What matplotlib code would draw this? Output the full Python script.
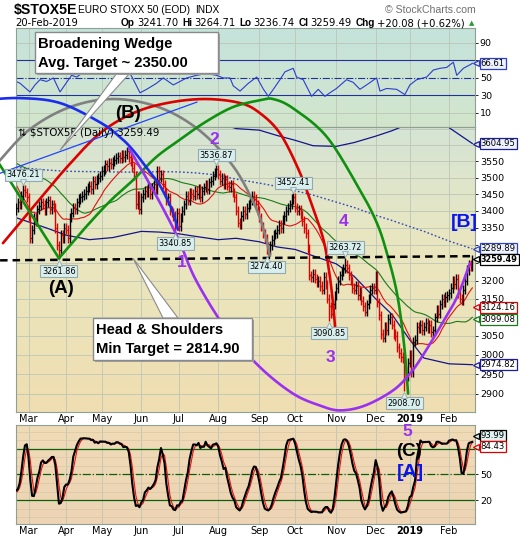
import numpy as np
import pandas as pd
import matplotlib
matplotlib.use("Agg")
import matplotlib.pyplot as plt
from matplotlib.patches import Rectangle, Polygon
from matplotlib.ticker import NullLocator, NullFormatter
from matplotlib.transforms import blended_transform_factory, offset_copy

plt.rcParams["font.family"] = ["DejaVu Sans"]

# ---------------- data ----------------
HOLIDAYS = ["2018-03-30", "2018-04-02", "2018-05-01", "2018-12-25", "2018-12-26", "2019-01-01"]
dates = pd.bdate_range("2018-02-20", "2019-02-20")
dates = dates[~dates.isin(pd.to_datetime(HOLIDAYS))]

# closes before the visible window (Dec 2017 - 19 Feb 2018), used only to seed the averages
warmup_closes = [3570, 3575, 3580, 3565, 3555, 3580, 3590, 3595, 3585, 3560,
                 3570, 3605, 3590, 3560, 3565, 3560, 3555, 3530, 3504,
                 3490, 3527, 3580, 3607, 3612, 3625, 3605, 3590, 3614, 3615,
                 3620, 3608, 3620, 3647, 3650, 3672, 3640, 3647, 3647, 3636,
                 3600, 3609,
                 3590, 3523, 3478, 3370, 3425, 3380, 3326, 3360, 3352, 3376,
                 3390, 3426, 3400]

# daily closes 20-Feb-2018 .. 20-Feb-2019
closes = [3410, 3425, 3420, 3445, 3462, 3455, 3440, 3385, 3320, 3345,
          3380, 3370, 3405, 3415, 3425, 3418, 3400, 3425, 3432, 3405,
          3420, 3410, 3350, 3300, 3285, 3330, 3320, 3350, 3345, 3320,
          3380, 3395, 3410, 3405, 3425, 3435, 3440, 3445, 3450, 3460,
          3470, 3475, 3465, 3490, 3480, 3495, 3500, 3505, 3520, 3525,
          3540, 3535, 3545, 3540, 3550, 3555, 3560, 3565, 3560, 3570,
          3562, 3570, 3580, 3562, 3548, 3530, 3505, 3420, 3445, 3405,
          3440, 3450, 3460, 3455, 3470, 3450, 3470, 3480, 3465, 3520,
          3500, 3510, 3480, 3455, 3430, 3440, 3400, 3395, 3385, 3360,
          3395, 3355, 3380, 3400, 3420, 3445, 3430, 3455, 3450, 3445,
          3460, 3450, 3465, 3440, 3460, 3470, 3480, 3465, 3485, 3490,
          3505, 3515, 3525, 3510, 3490, 3500, 3480, 3495, 3475, 3470,
          3480, 3455, 3440, 3400, 3365, 3360, 3385, 3400, 3390, 3410,
          3420, 3430, 3445, 3435, 3420, 3400, 3380, 3355, 3335, 3320,
          3295, 3285, 3300, 3315, 3330, 3335, 3345, 3360, 3350, 3375,
          3385, 3400, 3410, 3420, 3435, 3440, 3410, 3400, 3405, 3390,
          3370, 3350, 3335, 3290, 3215, 3210, 3220, 3205, 3195, 3200,
          3185, 3175, 3210, 3190, 3150, 3130, 3110, 3135, 3160, 3180,
          3200, 3215, 3225, 3235, 3245, 3235, 3215, 3200, 3180, 3175,
          3185, 3160, 3170, 3145, 3130, 3115, 3135, 3150, 3175, 3180,
          3175, 3215, 3140, 3105, 3055, 3045, 3075, 3065, 3095, 3100,
          3080, 3055, 3050, 3020, 3005, 2995, 2990, 2960, 2945, 2980,
          3000, 2955, 3035, 3040, 3075, 3070, 3080, 3065, 3075, 3085,
          3070, 3080, 3060, 3065, 3100, 3120, 3110, 3135, 3150, 3140,
          3155, 3160, 3165, 3180, 3200, 3190, 3205, 3165, 3150, 3145,
          3175, 3200, 3230, 3246, 3239, 3259.49]

# labelled swing highs / lows
pivot_dates = ["2018-02-26", "2018-03-26", "2018-06-28", "2018-07-31", "2018-09-07",
               "2018-09-28", "2018-10-26", "2018-11-08", "2018-12-27"]
pivot_values = [3476.21, 3261.86, 3340.85, 3536.87, 3274.40, 3452.41, 3090.85, 3263.72, 2908.70]
pivot_is_high = [True, False, False, True, False, True, False, True, False]

# 200-day average and its bands
band_dates = ["2018-02-20", "2018-03-15", "2018-04-03", "2018-04-20", "2018-05-10", "2018-06-01",
              "2018-06-15", "2018-07-02", "2018-07-16", "2018-08-01", "2018-08-15", "2018-09-03",
              "2018-09-17", "2018-10-01", "2018-10-15", "2018-11-01", "2018-11-15", "2018-12-03",
              "2018-12-14", "2019-01-02", "2019-01-14", "2019-02-01", "2019-02-20"]
sma200 = [3531, 3523, 3519, 3518, 3517, 3516, 3518, 3517, 3514, 3507, 3495, 3483,
          3473, 3460, 3447, 3426, 3410, 3387, 3372, 3354, 3340, 3312, 3289.89]
band_upper = [3690, 3695, 3705, 3712, 3712, 3700, 3702, 3700, 3695, 3670, 3652, 3647,
              3630, 3615, 3598, 3596, 3608, 3628, 3645, 3668, 3680, 3655, 3604.95]
band_lower = [3380, 3350, 3329, 3316, 3322, 3340, 3338, 3333, 3325, 3316, 3320, 3310,
              3295, 3288, 3270, 3247, 3212, 3150, 3108, 3040, 2992, 2977, 2974.82]

# top panel oscillator (trading-day index, value)
rsi_days = [0, 2.2, 7.8, 10.6, 13.4, 17.1, 20.9, 24.6, 28.3, 31.1, 33.9, 40, 46, 52, 58, 62,
            65.6, 69.3, 73.0, 78.6, 82.3, 87.9, 95.4, 100.9, 106.5, 112.1, 115.8, 119.6, 121.4,
            125.2, 129.9, 134.5, 138.3, 141.0, 143.8, 147.5, 150.3, 154.9, 156.8, 160.5, 165.2,
            168.9, 172.6, 175.4, 179.1, 184.7, 188.4, 192.2, 195.9, 201.5, 203.4, 207.1, 212.7,
            217.3, 220.1, 223.9, 229.5, 233.2, 236.9, 240.7, 244.4, 246.3, 250.0, 253.7, 255]
rsi_vals = [46, 44, 34, 42, 48, 46, 50, 34, 45, 53, 51, 60, 66, 63, 68, 62,
            48, 33, 37, 44, 50, 42, 50, 53, 55, 53, 50, 50, 41,
            35, 44, 51, 37, 29, 37, 48, 57, 61, 51, 48, 29,
            37, 29, 33, 38, 48, 45, 37, 42, 50, 35, 38, 37,
            31, 42, 48, 51, 59, 61, 62, 68, 53, 61, 65, 66.61]
stoch_last = [93.99, 84.43]

# hand-drawn annotation curves: (trading-day offset from first bar, price)
arc_blue = [(-20.1, 3743), (2.2, 3750), (24.6, 3734), (46.9, 3672), (58.1, 3625), (65.4, 3584),
            (74.9, 3516), (80.5, 3475), (87.2, 3403), (90.5, 3345)]
arc_gray = [(-14.5, 3513), (-8.9, 3553), (7.8, 3650), (30.2, 3721), (54.8, 3747), (80.5, 3719),
            (102.8, 3645), (121.3, 3535), (133.6, 3415), (139.1, 3332), (141.9, 3269)]
arc_red = [(-7.3, 3306), (9.5, 3411), (28.5, 3532), (46.9, 3637), (65.4, 3701), (84.4, 3734),
           (105.6, 3747), (125.2, 3734), (136.4, 3701), (147.5, 3637), (157.6, 3528),
           (164.8, 3426), (171.6, 3320), (174.9, 3229), (177.2, 3136), (178.3, 3073)]
line_green = [(-11.7, 3562), (24.0, 3263)]
arc_green = [(24.0, 3263), (37.4, 3343), (52.0, 3426), (65.4, 3492), (78.2, 3562), (91.1, 3615),
             (105.6, 3672), (121.3, 3721), (136.4, 3743), (143.6, 3747), (154.8, 3717),
             (173.8, 3625), (192.2, 3462), (201.7, 3364), (207.3, 3277), (212.9, 3165),
             (216.8, 3030), (219.1, 2901)]
arc_purple = [(63.1, 3590), (71.0, 3516), (82.1, 3408), (91.1, 3314), (100.6, 3201), (117.9, 3065),
              (136.4, 2968), (154.8, 2901), (169.9, 2871), (181.1, 2859), (195.0, 2871),
              (210.7, 2909), (220.2, 2952), (227.4, 2999), (236.9, 3073), (246.4, 3154),
              (253.7, 3249)]
neckline = [(-8.9, 3257), (256.5, 3269)]
wedge_line = [(-8.9, 3513), (101.1, 3737)]

# right-edge value tags: value, edge colour, fill, bold, nudge (pixels, + = up)
tags_main = [(3604.95, "#1c1c9c", "#eef2ff", False, 0), (3289.89, "#3344bb", "#eef2ff", False, 0),
             (3259.49, "black", "white", True, 0), (3124.16, "#dd0000", "white", False, 1.0),
             (3099.08, "#1a7a1a", "white", False, -1.5), (2974.82, "#1c1c9c", "white", False, 0)]

# ---------------- indicators ----------------
allc = np.array(warmup_closes + closes, float)
prev = np.concatenate([[allc[0]], allc[:-1]])
all_hi = np.maximum(prev, allc) * 1.004
all_lo = np.minimum(prev, allc) * 0.996
s = pd.Series(allc)
n0 = len(warmup_closes)
c = allc[n0:]
o = prev[n0:]
x = np.arange(len(c))

sma20 = s.rolling(20).mean().values[n0:]
sma50 = s.rolling(50).mean().values[n0:]
lo14 = pd.Series(all_lo).rolling(14).min()
hi14 = pd.Series(all_hi).rolling(14).max()
fastk = 100 * (s - lo14) / (hi14 - lo14)
slowk = fastk.rolling(3).mean()
slowd = slowk.rolling(3).mean()
slowk = slowk.values[n0:]
slowd = slowd.values[n0:]

piv_idx = dates.get_indexer(pd.to_datetime(pivot_dates))
band_idx = dates.get_indexer(pd.to_datetime(band_dates))

hi = all_hi[n0:].copy()
lo = all_lo[n0:].copy()
for i, v, h in zip(piv_idx, pivot_values, pivot_is_high):
    if h:
        hi[i] = max(hi[i], v)
    else:
        lo[i] = min(lo[i], v)
bar_col = np.where(c >= o, "black", "#e00000")

month_idx, month_lab = [], []
for i in range(1, len(dates)):
    if dates[i].month != dates[i - 1].month:
        month_idx.append(i)
        month_lab.append("2019" if dates[i].month == 1 else dates[i].strftime("%b"))


def catmull(points, n=24):
    P = np.array(points, float)
    P[:, 1] = np.log(P[:, 1])
    P = np.vstack([2 * P[0] - P[1], P, 2 * P[-1] - P[-2]])
    t = np.linspace(0, 1, n, endpoint=False)[:, None]
    segs = []
    for i in range(1, len(P) - 2):
        p0, p1, p2, p3 = P[i - 1], P[i], P[i + 1], P[i + 2]
        segs.append(0.5 * (2 * p1 + (-p0 + p2) * t + (2 * p0 - 5 * p1 + 4 * p2 - p3) * t ** 2
                           + (-p0 + 3 * p1 - 3 * p2 + p3) * t ** 3))
    segs.append(P[-2][None, :])
    R = np.vstack(segs)
    return R[:, 0], np.exp(R[:, 1])


# ---------------- layout ----------------
W_PX, H_PX = 520, 540
fig = plt.figure(figsize=(5.2, 5.4), dpi=100)
fig.patch.set_facecolor("white")


def fx(px):
    return px / W_PX


def fy(py):
    return 1 - py / H_PX


def rect(top, bottom):
    return [fx(16), fy(bottom), fx(475) - fx(16), (bottom - top) / H_PX]


def gradient_bg(r, stops):
    bg = fig.add_axes(r, zorder=-5)
    pos = np.linspace(0, 1, 200)
    cols = np.array([np.interp(pos, [p for p, _ in stops], [col[k] for _, col in stops])
                     for k in range(3)]).T
    bg.imshow(cols[:, None, :] / 255.0, aspect="auto", extent=(0, 1, 0, 1))
    bg.set_axis_off()


R_RSI, R_MAIN, R_ST = rect(28, 127), rect(127, 412), rect(425, 524)
gradient_bg(R_RSI, [(0, (197, 227, 220)), (1, (211, 230, 204))])
gradient_bg(R_MAIN, [(0, (213, 228, 213)), (0.4, (233, 231, 192)), (1, (240, 222, 177))])
gradient_bg(R_ST, [(0, (240, 219, 183)), (1, (236, 212, 180))])

ax_r = fig.add_axes(R_RSI)
ax = fig.add_axes(R_MAIN)
ax_s = fig.add_axes(R_ST)

GRID = "#bcc6b6"
for a in (ax_r, ax, ax_s):
    a.set_facecolor("none")
    a.set_xlim(0, 256.5)
    for sp in a.spines.values():
        sp.set_color("#8f9f90")
        sp.set_linewidth(0.8)
    a.yaxis.tick_right()
    a.tick_params(axis="y", labelsize=6.8, pad=1, length=2.5, colors="black", width=0.6)
    a.set_xticks(month_idx)
    for mi in month_idx:
        a.axvline(mi, color=GRID, lw=0.6, zorder=0.5)

for a in (ax, ax_s):
    a.set_xticklabels(month_lab)
    a.tick_params(axis="x", labelsize=7, pad=1.5, length=0)
    for t in a.get_xticklabels():
        if t.get_text() == "2019":
            t.set_fontweight("bold")
ax_r.set_xticklabels([])
ax_r.tick_params(axis="x", length=0)

# ---------------- top oscillator panel ----------------
ax_r.set_ylim(-6, 107)
ax_r.set_yticks([10, 30, 50, 70, 90])
ax_r.set_yticklabels(["10", "30", "50", "", "90"])
for lv in (10, 90):
    ax_r.axhline(lv, color=GRID, lw=0.6, zorder=0.5)
ax_r.axhline(70, color="#22309a", lw=0.8, zorder=1)
ax_r.axhline(30, color="#22309a", lw=0.8, zorder=1)
ax_r.axhline(50, color="#22309a", lw=0.8, ls="-.", zorder=1)
ax_r.plot(rsi_days, rsi_vals, color="#2b3ccf", lw=0.8, zorder=2)

# ---------------- main price panel ----------------
ax.set_yscale("log")
ax.set_ylim(2855, 3657)
ax.yaxis.set_minor_locator(NullLocator())
ax.yaxis.set_minor_formatter(NullFormatter())
yt = list(range(2900, 3601, 50))
hidden = {3100, 3250, 3300, 3600}
ax.set_yticks(yt)
ax.set_yticklabels(["" if v in hidden else str(v) for v in yt])
for lv in range(2900, 3651, 50):
    ax.axhline(lv, color=GRID, lw=0.6, zorder=0.5)

ax.plot(band_idx, band_upper, color="#14148a", lw=0.9, zorder=2)
ax.plot(band_idx, band_lower, color="#14148a", lw=0.9, zorder=2)
ax.plot(band_idx, sma200, color="#3344bb", lw=1.0, ls=(0, (1.2, 1.6)), zorder=2)
ax.plot(x, sma50, color="#1a7a1a", lw=0.8, zorder=2)
ax.plot(x, sma20, color="#e01010", lw=0.8, zorder=2)

ax.vlines(x, lo, hi, colors=bar_col, lw=1.0, zorder=3)
ax.hlines(c, x, x + 0.6, colors=bar_col, lw=0.9, zorder=3)
ax.hlines(o, x - 0.6, x, colors=bar_col, lw=0.9, zorder=3)

for pts, col in ((arc_gray, "#808080"), (arc_red, "#dd0000"), (arc_green, "#109010"),
                 (arc_blue, "#1a2cf0"), (arc_purple, "#9a30f0")):
    ax_, ay_ = catmull(pts)
    ax.plot(ax_, ay_, color=col, lw=1.9, zorder=4, clip_on=False, solid_capstyle="round")
ax.plot([p[0] for p in line_green], [p[1] for p in line_green], color="#109010", lw=1.9,
        zorder=4, clip_on=False)
ax.plot([p[0] for p in wedge_line], [p[1] for p in wedge_line], color="#2244ff", lw=0.9,
        zorder=4, clip_on=False)
ax.plot([p[0] for p in neckline], [p[1] for p in neckline], color="black", lw=1.8,
        dashes=(3, 2), zorder=4, clip_on=False)

ax.text(0.004, 0.979, "\u21c5 $STOX5E (Daily) 3259.49", transform=ax.transAxes, fontsize=7.4,
        va="center", ha="left", zorder=5)

# pivot labels
for i, v, h in zip(piv_idx, pivot_values, pivot_is_high):
    off = 7.5 if h else -9
    ax.annotate(f"{v:.2f}", xy=(i, v), xytext=(0, off), textcoords="offset points",
                ha="center", va="center", fontsize=5.9, zorder=15, annotation_clip=False,
                bbox=dict(boxstyle="square,pad=0.2", fc="#d8efee", ec="#94a9ad", lw=0.8))
    tr = offset_copy(ax.transData, fig=fig, y=(2.6 if h else -3.2), units="points")
    ax.plot([i], [v], marker=("v" if h else "^"), ms=4, mfc="#d8efee", mec="#94a9ad",
            mew=0.6, transform=tr, zorder=16, clip_on=False)

# wave labels
FB = "Liberation Sans"
PURPLE = "#9a30f0"
wave_labels = [(62.6, 3701, "(B)", "black", 13.5, "center"), (24.9, 3179, "(A)", "black", 13.5, "center"),
               (110.6, 3619, "2", PURPLE, 12.5, "center"), (92.8, 3252, "1", PURPLE, 12.5, "center"),
               (176.0, 2994, "3", PURPLE, 12.5, "center"), (183.3, 3370, "4", PURPLE, 12.5, "center"),
               (258.0, 3366, "[B]", "#0a14f0", 14, "right")]
for wx, wy, wt, wc, wsz, wha in wave_labels:
    ax.text(wx, wy, wt, color=wc, fontsize=wsz, fontweight="bold", family=FB,
            ha=wha, va="center", zorder=8, clip_on=False)

# ---------------- stochastics panel ----------------
ax_s.set_ylim(-8.2, 108.2)
ax_s.set_yticks([20, 50, 80])
ax_s.set_yticklabels(["20", "50", ""])
for lv in range(0, 101, 10):
    ax_s.axhline(lv, color="#dcc6a6", lw=0.5, zorder=0.5)
ax_s.axhline(80, color="#0d5e0d", lw=0.9, zorder=1)
ax_s.axhline(20, color="#0d5e0d", lw=0.9, zorder=1)
ax_s.axhline(50, color="#0d5e0d", lw=0.9, ls="-.", zorder=1)
ax_s.plot(x, slowd, color="#ee1010", lw=0.8, zorder=2)
ax_s.plot(x, slowk, color="black", lw=1.5, zorder=3)
for wx, wy, wt, wc, wsz in [(218.5, 100.6, "5", PURPLE, 12.5), (219.6, 77, "(C)", "black", 13.5),
                            (220.2, 52.4, "[A]", "#0a14f0", 14)]:
    ax_s.text(wx, wy, wt, color=wc, fontsize=wsz, fontweight="bold", family=FB,
              ha="center", va="center", zorder=8, clip_on=False)


# ---------------- right-edge value tags ----------------
def tag(axis, val, ec, fc="white", bold=False, nudge=0.0):
    base = blended_transform_factory(axis.transAxes, axis.transData)
    tr = offset_copy(base, fig=fig, y=nudge, units="dots")
    axis.text(1.0125, val, f"{val:.2f}", transform=tr, ha="left", va="center",
              fontsize=5.9 if bold else 6.1,
              fontweight="bold" if bold else "normal", color="black", clip_on=False, zorder=20,
              bbox=dict(boxstyle="square,pad=0.12", fc=fc, ec=ec, lw=0.9))
    axis.plot([1.0015], [val], marker="<", ms=4.4, mfc=fc, mec=ec, mew=0.9, transform=tr,
              clip_on=False, zorder=21)


for v, ec, fc, b, nd in tags_main:
    tag(ax, v, ec, fc, b, nd)
tag(ax_r, rsi_vals[-1], "#2b3ccf", "#eef2ff")
tag(ax_s, stoch_last[0], "black", "#dff3f3", nudge=1.5)
tag(ax_s, stoch_last[1], "#dd0000", "white", nudge=-1.5)

# ---------------- header ----------------
fig.text(fx(14), fy(10), "$STOX5E", fontsize=10.2, fontweight="bold", family=FB, va="center")
fig.text(fx(78), fy(10), "EURO STOXX 50 (EOD)", fontsize=7.3, family=FB, va="center")
fig.text(fx(195), fy(10), "INDX", fontsize=7.3, family=FB, va="center")
fig.text(fx(476), fy(10), "\u00a9 StockCharts.com", fontsize=7.6, family=FB, va="center",
         ha="right", color="#707070")
fig.text(fx(15), fy(23), "20-Feb-2019", fontsize=7.2, va="center")

fig.canvas.draw()
renderer = fig.canvas.get_renderer()
row = [("Op", True), ("3241.70", False), ("Hi", True), ("3264.71", False),
       ("Lo", True), ("3236.74", False), ("Cl", True), ("3259.49", False),
       ("Chg", True), ("+20.08 (+0.62%)", False)]
xpos = 121.0
for t, b in row:
    tt = fig.text(fx(xpos), fy(23), t, fontsize=7.2, va="center",
                  family=(FB if b else "DejaVu Sans"), fontweight="bold" if b else "normal")
    w = tt.get_window_extent(renderer=renderer).width
    xpos += w + (2.0 if b else 4.0)
fig.text(fx(min(xpos + 3, 472)), fy(23), "\u25b2", fontsize=5, color="#2a9a2a", va="center",
         ha="center")


# ---------------- callout boxes ----------------
def to_fig(axis, xy):
    return fig.transFigure.inverted().transform(axis.transData.transform(xy))


def callout(box_px, lines, base_px, tip_data):
    x0, y0, x1, y1 = box_px
    tip = to_fig(ax, tip_data)
    fig.patches.append(Polygon([(fx(base_px[0]), fy(base_px[2])), (fx(base_px[1]), fy(base_px[2])),
                                tuple(tip)], closed=True, fc="white", ec="#8a8a8a", lw=0.8,
                               transform=fig.transFigure, zorder=8))
    fig.patches.append(Rectangle((fx(x0 + 2), fy(y1 + 2)), fx(x1) - fx(x0), (y1 - y0) / H_PX,
                                 transform=fig.transFigure, fc="#a0a0a0", ec="none", zorder=8.5))
    fig.patches.append(Rectangle((fx(x0), fy(y1)), fx(x1) - fx(x0), (y1 - y0) / H_PX,
                                 transform=fig.transFigure, fc="white", ec="#8a8a8a", lw=1.0,
                                 zorder=9))
    for ly, lt in lines:
        fig.text(fx(x0 + 3), fy(ly), lt, fontsize=10.6, fontweight="bold", family=FB,
                 va="center", ha="left", zorder=10)


callout((35, 32, 218, 73), [(44, "Broadening Wedge"), (62.5, "Avg. Target ~ 2350.00")],
        (117, 130, 73), (24.6, 3584))
callout((93, 318, 252, 360), [(330, "Head & Shoulders"), (348.5, "Min Target = 2814.90")],
        (163, 178, 318), (65.4, 3263))

fig.savefig("out.png", dpi=100)
